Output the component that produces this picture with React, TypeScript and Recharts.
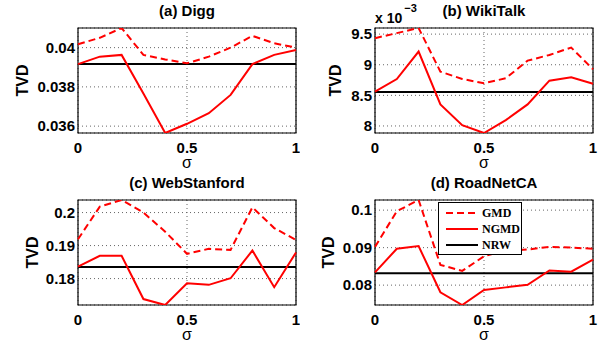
import {
  CartesianGrid,
  Legend,
  Line,
  LineChart,
  ReferenceArea,
  ReferenceLine,
  XAxis,
  YAxis,
} from 'recharts'

const SIGMA = [0, 0.1, 0.2, 0.3, 0.4, 0.5, 0.6, 0.7, 0.8, 0.9, 1]
const X_TICKS = [0, 0.5, 1]

// (a) Digg
const DIGG_GMD = [0.04017, 0.0405, 0.041, 0.03963, 0.0394, 0.0392, 0.03954, 0.04, 0.0406, 0.04022, 0.04]
const DIGG_NGMD = [0.03916, 0.03954, 0.03963, 0.03766, 0.03565, 0.03612, 0.03666, 0.03759, 0.03916, 0.03963, 0.03988]
const DIGG_NRW = 0.03916
const DIGG_RANGE: [number, number] = [0.03565, 0.041]
const DIGG_TICKS = [0.036, 0.038, 0.04]

// (b) WikiTalk, in units of 1e-3
const WIKI_GMD = [9.434, 9.516, 9.6, 8.887, 8.767, 8.697, 8.779, 9.067, 9.16, 9.28, 8.926]
const WIKI_NGMD = [8.559, 8.767, 9.215, 8.352, 8.013, 7.885, 8.095, 8.352, 8.74, 8.795, 8.69]
const WIKI_NRW = 8.554
const WIKI_RANGE: [number, number] = [7.885, 9.6]
const WIKI_TICKS = [8, 8.5, 9, 9.5]

// (c) WebStanford
const STAN_GMD = [0.1919, 0.2018, 0.2038, 0.2, 0.1942, 0.1875, 0.189, 0.1887, 0.2016, 0.1953, 0.1917]
const STAN_NGMD = [0.1836, 0.1869, 0.1869, 0.1738, 0.172, 0.1786, 0.1781, 0.1801, 0.1885, 0.1774, 0.1879]
const STAN_NRW = 0.1835
const STAN_RANGE: [number, number] = [0.172, 0.2038]
const STAN_TICKS = [0.18, 0.19, 0.2]

// (d) RoadNetCA
const ROAD_GMD = [0.0902, 0.0997, 0.1027, 0.0854, 0.0838, 0.0877, 0.0892, 0.0895, 0.0902, 0.09, 0.0897]
const ROAD_NGMD = [0.0834, 0.0897, 0.0904, 0.0781, 0.0747, 0.0787, 0.0794, 0.0801, 0.0839, 0.0836, 0.0868]
const ROAD_NRW = 0.0832
const ROAD_RANGE: [number, number] = [0.0747, 0.1027]
const ROAD_TICKS = [0.08, 0.09, 0.1]

const SANS = '"Liberation Sans", Arial, Helvetica, sans-serif'
const SERIF = '"Liberation Serif", "Times New Roman", serif'
const RED = '#ff0000'
const TICK = { fill: '#000', fontSize: 15, fontWeight: 700, fontFamily: SANS }

const LEGEND_ITEMS = [
  { name: 'GMD', color: RED, dash: '7 4' },
  { name: 'NGMD', color: RED, dash: undefined },
  { name: 'NRW', color: '#000', dash: undefined },
]

function LegendBox() {
  return (
    <div
      style={{
        width: 84,
        height: 53,
        boxSizing: 'border-box',
        border: '1px solid #000',
        background: '#fff',
        paddingTop: 2,
        fontFamily: SERIF,
        fontWeight: 700,
        fontSize: 12,
        color: '#000',
      }}
    >
      {LEGEND_ITEMS.map((it) => (
        <div key={it.name} style={{ display: 'flex', alignItems: 'center', height: 16 }}>
          <svg width={32} height={4} style={{ marginLeft: 7 }}>
            <line x1={0} y1={2} x2={32} y2={2} stroke={it.color} strokeWidth={2} strokeDasharray={it.dash} />
          </svg>
          <span style={{ marginLeft: 4, lineHeight: '16px' }}>{it.name}</span>
        </div>
      ))}
    </div>
  )
}

function Panel(props: {
  title: string
  left: number
  top: number
  width: number
  height: number
  plotTop: number
  yWidth: number
  right: number
  labelX: number
  gmd: number[]
  ngmd: number[]
  nrw: number
  range: [number, number]
  yTicks: number[]
  exponent?: boolean
  legend?: boolean
}) {
  const rows = SIGMA.map((s, i) => ({ sigma: s, gmd: props.gmd[i], ngmd: props.ngmd[i] }))
  const plotH = 105
  const plotW = props.width - props.yWidth - props.right
  const midY = props.plotTop + plotH / 2

  const TvdLabel = () => (
    <text
      x={props.labelX}
      y={midY}
      transform={`rotate(-90 ${props.labelX} ${midY})`}
      textAnchor="middle"
      dominantBaseline="central"
      fontSize={16}
      fontWeight={700}
      fontFamily={SANS}
      fill="#000"
    >
      TVD
    </text>
  )

  const SigmaLabel = () => (
    <text
      x={props.yWidth + plotW / 2}
      y={props.plotTop + plotH + 35}
      textAnchor="middle"
      fontSize={16}
      fontFamily={SANS}
      fill="#000"
    >
      σ
    </text>
  )

  return (
    <div style={{ position: 'absolute', left: props.left, top: props.top, width: props.width, height: props.height }}>
      <LineChart
        width={props.width}
        height={props.height}
        data={rows}
        margin={{ top: props.plotTop, right: props.right, bottom: 0, left: 0 }}
      >
        <CartesianGrid stroke="#666" strokeDasharray="1 3" />
        <XAxis
          type="number"
          dataKey="sigma"
          domain={[0, 1]}
          ticks={X_TICKS}
          height={props.height - props.plotTop - plotH}
          axisLine={false}
          tickLine={false}
          tickSize={6}
          tickMargin={3}
          tick={TICK}
          label={SigmaLabel}
        />
        <YAxis
          type="number"
          domain={props.range}
          allowDataOverflow
          ticks={props.yTicks}
          width={props.yWidth}
          axisLine={false}
          tickLine={false}
          tickSize={3}
          tickMargin={0}
          tick={TICK}
          label={TvdLabel}
        />
        <ReferenceLine y={props.nrw} stroke="#000" strokeWidth={2} isFront />
        <Line dataKey="gmd" stroke={RED} strokeWidth={2} strokeDasharray="7 4" dot={false} isAnimationActive={false} />
        <Line dataKey="ngmd" stroke={RED} strokeWidth={2} dot={false} isAnimationActive={false} />
        <ReferenceArea
          x1={0}
          x2={1}
          y1={props.range[0]}
          y2={props.range[1]}
          fill="none"
          stroke="#000"
          strokeWidth={1.2}
          ifOverflow="visible"
          isFront
        />
        {props.legend && (
          <Legend
            layout="vertical"
            align="center"
            verticalAlign="middle"
            content={LegendBox}
            wrapperStyle={{ left: 138, top: 32, width: 84, height: 53 }}
          />
        )}
      </LineChart>
      <svg
        width={props.width}
        height={props.plotTop}
        style={{ position: 'absolute', left: 0, top: 0, pointerEvents: 'none' }}
      >
        <text
          x={props.yWidth + plotW / 2}
          y={props.plotTop - 12}
          textAnchor="middle"
          fontSize={15}
          fontWeight={700}
          fontFamily={SANS}
          fill="#000"
        >
          {props.title}
        </text>
        {props.exponent && (
          <text x={props.yWidth} y={props.plotTop - 5} fontSize={14} fontWeight={700} fontFamily={SANS} fill="#000">
            x 10
            <tspan dx={2} dy={-11} fontSize={11}>
              −3
            </tspan>
          </text>
        )}
      </svg>
    </div>
  )
}

export default function App() {
  return (
    <div style={{ position: 'absolute', left: 0, top: 0, width: 605, height: 347, background: '#fff' }}>
      <Panel
        title="(a) Digg"
        left={0}
        top={0}
        width={300}
        height={170}
        plotTop={28}
        yWidth={78}
        right={4}
        labelX={22}
        gmd={DIGG_GMD}
        ngmd={DIGG_NGMD}
        nrw={DIGG_NRW}
        range={DIGG_RANGE}
        yTicks={DIGG_TICKS}
      />
      <Panel
        title="(b) WikiTalk"
        left={300}
        top={0}
        width={305}
        height={170}
        plotTop={28}
        yWidth={75}
        right={12}
        labelX={35}
        gmd={WIKI_GMD}
        ngmd={WIKI_NGMD}
        nrw={WIKI_NRW}
        range={WIKI_RANGE}
        yTicks={WIKI_TICKS}
        exponent
      />
      <Panel
        title="(c) WebStanford"
        left={0}
        top={170}
        width={300}
        height={177}
        plotTop={30}
        yWidth={78}
        right={4}
        labelX={32}
        gmd={STAN_GMD}
        ngmd={STAN_NGMD}
        nrw={STAN_NRW}
        range={STAN_RANGE}
        yTicks={STAN_TICKS}
      />
      <Panel
        title="(d) RoadNetCA"
        left={300}
        top={170}
        width={305}
        height={177}
        plotTop={30}
        yWidth={75}
        right={12}
        labelX={28}
        gmd={ROAD_GMD}
        ngmd={ROAD_NGMD}
        nrw={ROAD_NRW}
        range={ROAD_RANGE}
        yTicks={ROAD_TICKS}
        legend
      />
    </div>
  )
}
